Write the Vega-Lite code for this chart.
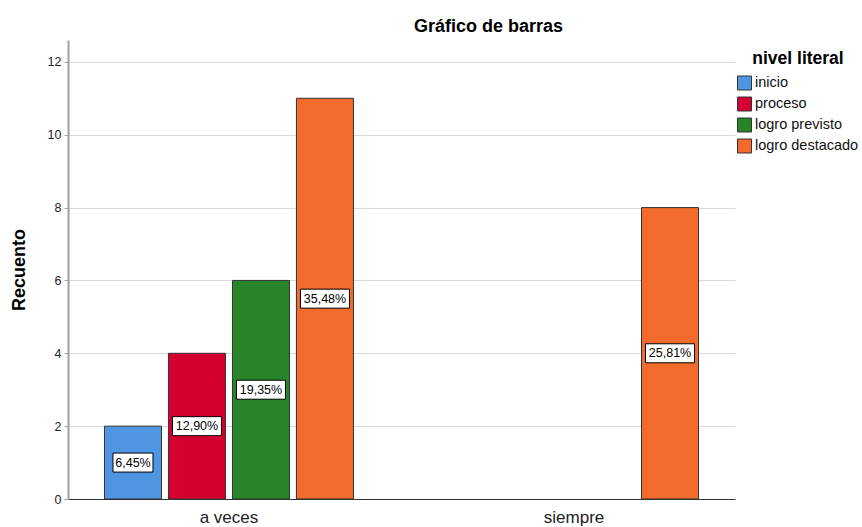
{
  "$schema": "https://vega.github.io/schema/vega-lite/v6.json",
  "autosize": {"type": "none"},
  "padding": {"left": 68, "top": 40, "right": 127, "bottom": 28},
  "width": 667,
  "height": 459,
  "background": "white",
  "title": {"text": "Gráfico de barras", "anchor": "middle", "dx": 87, "offset": 4, "fontSize": 18, "fontWeight": "bold", "font": "Liberation Sans", "color": "#000"},
  "data": {"values": [
    {"cat": "a veces", "nivel": "inicio", "count": 2, "pct": "6,45%"},
    {"cat": "a veces", "nivel": "proceso", "count": 4, "pct": "12,90%"},
    {"cat": "a veces", "nivel": "logro previsto", "count": 6, "pct": "19,35%"},
    {"cat": "a veces", "nivel": "logro destacado", "count": 11, "pct": "35,48%"},
    {"cat": "siempre", "nivel": "logro destacado", "count": 8, "pct": "25,81%"}
  ]},
  "transform": [{"calculate": "datum.count / 2", "as": "mid"}],
  "encoding": {
    "x": {"field": "cat", "type": "nominal", "sort": ["a veces", "siempre"],
      "scale": {"paddingInner": 0.258, "paddingOuter": 0.0955},
      "axis": {"title": null, "labelAngle": 0, "ticks": false, "labelPadding": 10, "labelFontSize": 17, "labelColor": "#222", "domainColor": "#333", "domainWidth": 1, "grid": false}},
    "xOffset": {"field": "nivel", "type": "nominal", "sort": ["inicio", "proceso", "logro previsto", "logro destacado"],
      "scale": {"domain": ["inicio", "proceso", "logro previsto", "logro destacado"], "paddingInner": 0.109, "paddingOuter": 0.055}}
  },
  "layer": [
    {
      "mark": {"type": "bar", "stroke": "#333", "strokeWidth": 1},
      "encoding": {
        "y": {"field": "count", "type": "quantitative", "title": "Recuento",
          "scale": {"domain": [0, 12.6], "nice": false},
          "axis": {"values": [0, 2, 4, 6, 8, 10, 12], "grid": true, "gridColor": "#d9d9d9", "domainColor": "#a0a0a0", "domainWidth": 2, "tickColor": "#a0a0a0", "tickSize": 4, "labelPadding": 3, "labelFontSize": 12.5, "labelColor": "#222", "titleFontSize": 18, "titleFontWeight": "bold", "titleColor": "#000", "titlePadding": 19}},
        "color": {"field": "nivel", "type": "nominal", "sort": ["inicio", "proceso", "logro previsto", "logro destacado"],
          "scale": {"domain": ["inicio", "proceso", "logro previsto", "logro destacado"], "range": ["#5095e2", "#d4002f", "#288428", "#f26b2c"]},
          "legend": {"title": "nivel literal", "orient": "none", "legendX": 669, "legendY": 10, "padding": 0, "titleAnchor": "middle", "titleFontSize": 17.5, "titleFontWeight": "bold", "titleColor": "#000", "titlePadding": 8, "symbolType": "square", "symbolSize": 196, "symbolStrokeColor": "#333", "symbolStrokeWidth": 1, "symbolOpacity": 1, "labelFontSize": 14.5, "labelColor": "#111", "labelOffset": 3, "rowPadding": 2}}
      }
    },
    {
      "mark": {"type": "point", "filled": true, "fill": "white", "stroke": "#000", "strokeWidth": 1, "opacity": 1, "size": 400},
      "encoding": {
        "y": {"field": "mid", "type": "quantitative", "title": "Recuento"},
        "shape": {"condition": {"test": "datum.count < 3", "value": "M-2,-0.95H2V0.95H-2Z"}, "value": "M-2.45,-0.95H2.45V0.95H-2.45Z"}
      }
    },
    {
      "mark": {"type": "text", "fontSize": 12.5, "color": "#000", "baseline": "middle", "align": "center"},
      "encoding": {
        "y": {"field": "mid", "type": "quantitative", "title": "Recuento"},
        "text": {"field": "pct"}
      }
    }
  ],
  "config": {
    "view": {"stroke": null},
    "font": "Liberation Sans"
  }
}
